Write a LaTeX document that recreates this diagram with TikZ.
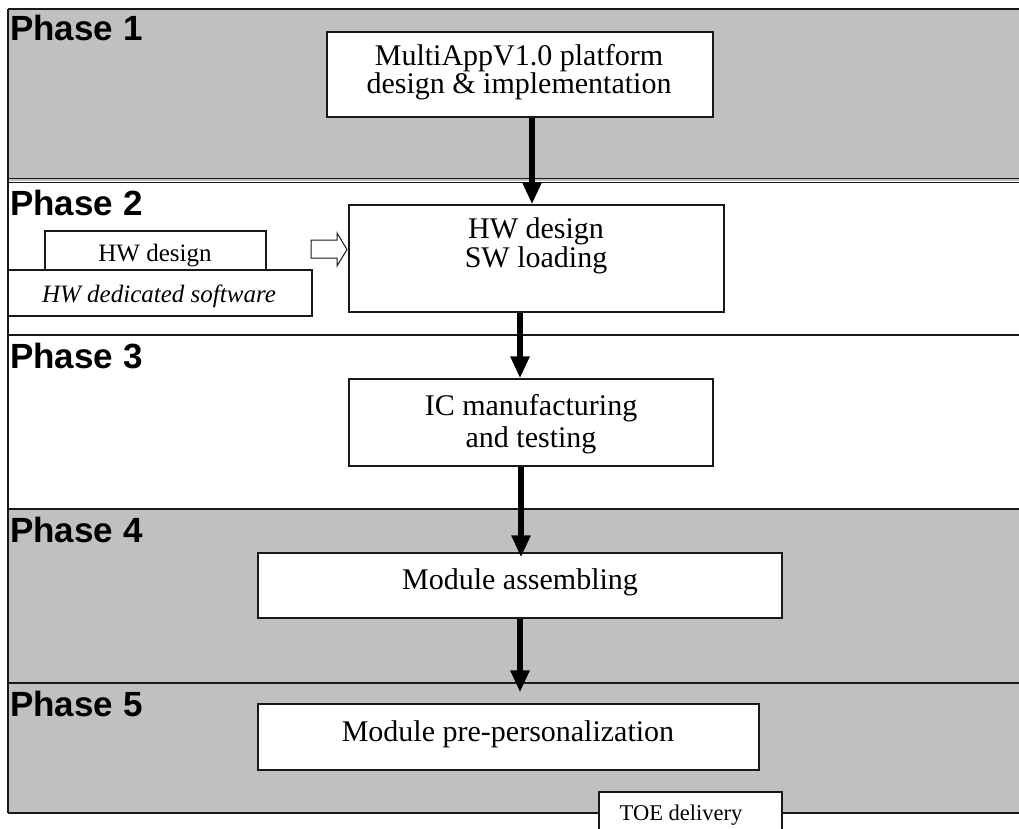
\documentclass[tikz,border=0pt]{standalone}
\usepackage{fontspec}
\setmainfont{Liberation Serif}
\newfontfamily\phfont{Liberation Sans}
\usetikzlibrary{arrows.meta}
\definecolor{bandgrey}{RGB}{192,192,192}
\definecolor{ink}{RGB}{25,25,25}
\begin{document}
\begin{tikzpicture}[x=1pt,y=-1pt,
  box/.style={draw=ink,line width=1.3pt,fill=white,inner sep=0pt,rectangle},
  txt/.style={inner sep=0pt,anchor=base,font=\fontsize{30}{32}\selectfont},
  smalltxt/.style={inner sep=0pt,anchor=base,font=\fontsize{25}{27}\selectfont},
  phase/.style={inner sep=0pt,anchor=base west,font=\phfont\bfseries\fontsize{35}{37}\selectfont},
  flow/.style={draw=black,line width=6pt,-{Triangle[width=18pt,length=22pt]}},
  sep/.style={draw=ink,line width=1.3pt}]
\useasboundingbox (0,0) rectangle (1019,829);
% bands
\fill[bandgrey] (8,9) rectangle (1019,181);
\fill[bandgrey] (8,509) rectangle (1019,813);
\draw[sep] (8,9) -- (1019,9);
\draw[sep,line width=1pt] (8,179) -- (1019,179);
\draw[sep,line width=1pt] (8,183) -- (1019,183);
\draw[sep] (8,335) -- (1019,335);
\draw[sep] (8,509) -- (1019,509);
\draw[sep] (8,683) -- (1019,683);
\draw[sep] (8,813) -- (1019,813);
\draw[sep,line width=1.6pt] (8,9) -- (8,813);
% phase labels
\node[phase] (ph1) at (10,41) {Phase 1};
\node[phase] (ph2) at (10,215) {Phase 2};
\node[phase] (ph3) at (10,368) {Phase 3};
\node[phase] (ph4) at (10,542) {Phase 4};
\node[phase] (ph5) at (10,716) {Phase 5};
% boxes
\node[box,minimum width=386pt,minimum height=85pt] (p1) at (520,74.5) {};
\node[box,minimum width=375pt,minimum height=107pt] (p2) at (536.5,258.5) {};
\node[box,minimum width=364pt,minimum height=87pt] (p3) at (531,422.5) {};
\node[box,minimum width=524pt,minimum height=65pt] (p4) at (520,585.5) {};
\node[box,minimum width=501pt,minimum height=66pt] (p5) at (508.5,737) {};
\node[box,minimum width=221pt,minimum height=39pt] (hw) at (155.5,250.5) {};
\node[box,minimum width=304pt,minimum height=46pt] (hwsw) at (160,293) {};
\node[box,minimum width=183pt,minimum height=48pt] (toe) at (690.5,816) {};
% texts
\node[txt] (t1a) at (519,66) {MultiAppV1.0 platform};
\node[txt] (t1b) at (519,94) {design \& implementation};
\node[txt] (t2a) at (536,238) {HW design};
\node[txt] (t2b) at (536,267) {SW loading};
\node[txt] (t3a) at (531,415) {IC manufacturing};
\node[txt] (t3b) at (531,447) {and testing};
\node[txt] (t4) at (520,589) {Module assembling};
\node[txt] (t5) at (508,741) {Module pre-personalization};
\node[smalltxt] (thw) at (155,261) {HW design};
\node[smalltxt,font=\fontsize{25}{27}\selectfont\itshape] (thwsw) at (159,302) {HW dedicated software};
\node[inner sep=0pt,anchor=base,font=\fontsize{22.5}{24}\selectfont] (ttoe) at (681,820) {TOE delivery};
% flow arrows
\draw[flow] ([xshift=12pt]p1.south) -- ([xshift=-4.5pt]p2.north);
\draw[flow] ([xshift=-16.5pt]p2.south) -- ([xshift=-11pt]p3.north);
\draw[flow] ([xshift=-10pt]p3.south) -- ([xshift=1pt,yshift=-5pt]p4.north);
\draw[flow] (p4.south) -- ([xshift=11.5pt,yshift=11pt]p5.north);
% hollow arrow
\draw[draw=ink,line width=1pt,fill=white] (311,240) -- (337,240) -- (337,233) -- (347,249.5) -- (337,266) -- (337,258) -- (311,258) -- cycle;
\end{tikzpicture}
\end{document}
